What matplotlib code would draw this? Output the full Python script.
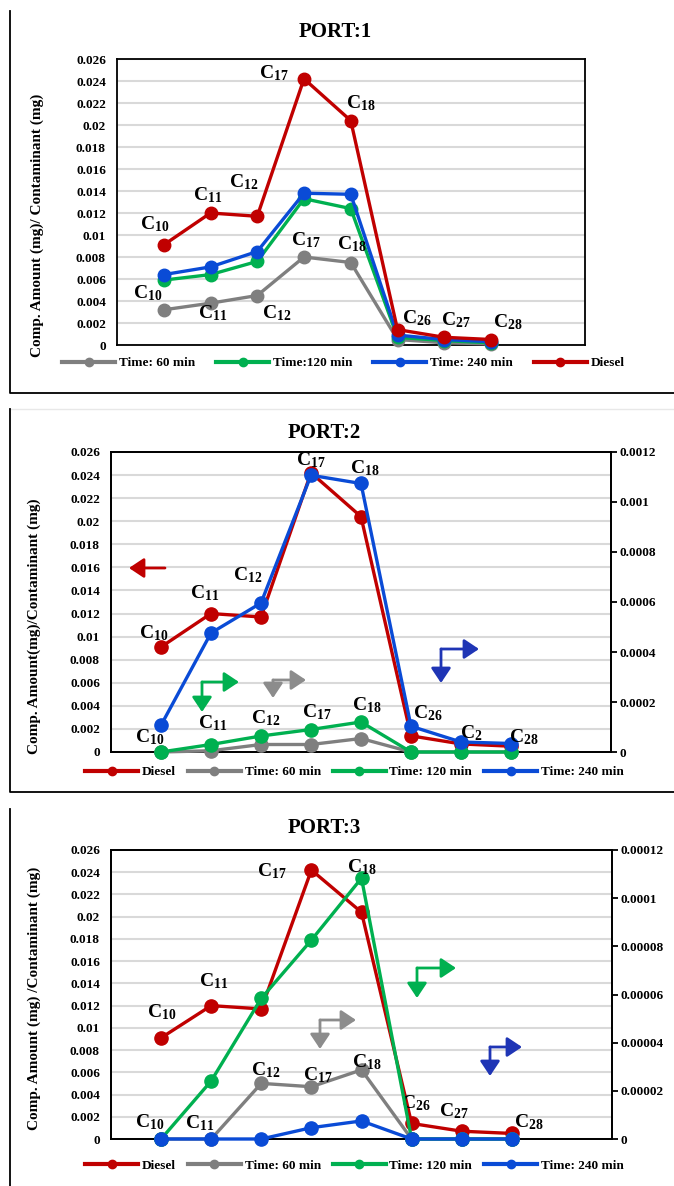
import matplotlib
matplotlib.use('Agg')
import matplotlib.pyplot as plt
import numpy as np
from matplotlib.lines import Line2D
from matplotlib.patches import FancyArrowPatch
from matplotlib.ticker import FuncFormatter

plt.rcParams['font.family'] = ['Liberation Serif', 'DejaVu Serif']
plt.rcParams['font.weight'] = 'bold'
plt.rcParams['mathtext.fontset'] = 'custom'
plt.rcParams['mathtext.rm'] = 'Liberation Serif:bold'
plt.rcParams['mathtext.it'] = 'Liberation Serif:bold'
plt.rcParams['mathtext.bf'] = 'Liberation Serif:bold'
plt.rcParams['mathtext.default'] = 'rm'

# data
carbons = ['10', '11', '12', '17', '18', '26', '27', '28']
x = np.arange(1, len(carbons) + 1)

diesel = [0.0091, 0.0120, 0.0117, 0.0242, 0.0204, 0.0014, 0.0007, 0.0005]

p1_t60 = [0.0032, 0.0038, 0.0045, 0.0080, 0.0075, 0.0005, 0.0002, 0.0001]
p1_t120 = [0.0059, 0.0064, 0.0076, 0.0133, 0.0124, 0.0007, 0.0004, 0.0002]
p1_t240 = [0.0064, 0.0071, 0.0085, 0.0138, 0.0137, 0.0009, 0.0005, 0.0003]

p2_t60 = [0, 0.000005, 0.00003, 0.00003, 0.000054, 0, 0, 0]
p2_t120 = [0, 0.00003, 0.000064, 0.00009, 0.00012, 0, 0, 0]
p2_t240 = [0.000107, 0.000476, 0.000596, 0.001107, 0.001074, 0.000103, 0.00004, 0.000034]

p3_t60 = [0, 0, 0.0000231, 0.0000217, 0.0000287, 0, 0, 0]
p3_t120 = [0, 0.0000241, 0.0000584, 0.0000826, 0.0001083, 0, 0, 0]
p3_t240 = [0, 0, 0, 0.0000047, 0.0000075, 0, 0, 0]

RED = '#C00000'
GRAY = '#7F7F7F'
GREEN = '#00B050'
BLUE = '#0A4BD6'

W, H = 674, 1186
fig = plt.figure(figsize=(W / 100, H / 100), dpi=100)


def rect(l, t, r, b):
    return [l / W, 1 - b / H, (r - l) / W, (b - t) / H]


def fp(px, py):
    return (px / W, 1 - py / H)


def fmt(v, pos):
    return np.format_float_positional(round(v, 8), trim='-')


def setup(ax):
    ax.set_xlim(0, 10)
    ax.set_ylim(0, 0.026)
    ax.set_yticks(np.linspace(0, 0.026, 14))
    ax.yaxis.set_major_formatter(FuncFormatter(fmt))
    ax.set_xticks([])
    ax.tick_params(axis='y', length=0, pad=8, labelsize=9.5)
    ax.grid(axis='y', color='#D9D9D9', lw=1.5)
    ax.set_axisbelow(True)
    for s in ax.spines.values():
        s.set_linewidth(1.3)


def twin(ax, top):
    ax2 = ax.twinx()
    ax2.set_ylim(0, top)
    ax2.set_yticks(np.linspace(0, top, 7))
    ax2.yaxis.set_major_formatter(FuncFormatter(fmt))
    ax2.tick_params(axis='y', direction='out', length=4, width=1.3, pad=2, labelsize=9.5)
    for s in ax2.spines.values():
        s.set_linewidth(1.3)
    return ax2


def line(ax, vals, color, ms=9.5):
    ax.plot(x, vals, color=color, lw=2.4, marker='o', ms=ms, clip_on=False, zorder=3)


def labels(ax, vals, items):
    for it in items:
        i, dx, dy = it[0], it[1], it[2]
        txt = it[3] if len(it) > 3 else 'C$_{%s}$' % carbons[i]
        ax.annotate(txt, xy=(x[i], vals[i]), xytext=(dx, dy), textcoords='offset pixels',
                    ha='center', va='center', fontsize=14, annotation_clip=False, zorder=5)


def legend(handles, names, cx, cy, spacing):
    fig.legend(handles, names, loc='center', bbox_to_anchor=fp(cx, cy), ncol=4, frameon=False,
               fontsize=9.5, handlelength=4, handletextpad=0.3, columnspacing=spacing,
               borderaxespad=0, borderpad=0)


def h(color):
    return Line2D([], [], color=color, lw=3, marker='o', ms=6)


def arrow(start, end, color):
    fig.add_artist(FancyArrowPatch(fp(*start), fp(*end), transform=fig.transFigure,
                                   arrowstyle='-|>,head_length=0.45,head_width=0.3',
                                   mutation_scale=20, lw=2.0, color=color,
                                   shrinkA=0, shrinkB=0))


def elbow(cx, cy, ydown, xright, color):
    arrow((cx, cy), (cx, ydown), color)
    arrow((cx, cy), (xright, cy), color)


def frame(xs, ys, color='black', lw=1.3):
    fig.add_artist(Line2D([v / W for v in xs], [1 - v / H for v in ys],
                          transform=fig.transFigure, color=color, lw=lw))


# ---------------- PORT 1 ----------------
ax1 = fig.add_axes(rect(117, 59, 584.5, 345))
setup(ax1)
line(ax1, p1_t60, GRAY, 9)
line(ax1, p1_t120, GREEN, 9)
line(ax1, p1_t240, BLUE, 9)
line(ax1, diesel, RED, 9)
labels(ax1, diesel, [(0, -9, 21), (1, -3, 18), (2, -14, 34), (3, -30, 6), (4, 10, 17),
                     (5, 19, 11), (6, 12, 17), (7, 17, 17)])
labels(ax1, p1_t60, [(0, -16, 17), (1, 2, -10), (2, 19, -18), (3, 2, 17), (4, 1, 18)])
fig.text(*fp(335, 32), 'PORT:1', ha='center', va='center', fontsize=15)
fig.text(*fp(37, 225), 'Comp. Amount (mg)/ Contaminant (mg)', rotation=90,
         ha='center', va='center', fontsize=11)
legend([h(GRAY), h(GREEN), h(BLUE), h(RED)],
       ['Time: 60 min', 'Time:120 min', 'Time: 240 min', 'Diesel'], 343.5, 363, 1.6)
frame([10, 10, 674], [11, 393, 393])

# ---------------- PORT 2 ----------------
ax2 = fig.add_axes(rect(111, 452, 611, 752))
setup(ax2)
line(ax2, diesel, RED)
ax2r = twin(ax2, 0.0012)
line(ax2r, p2_t60, GRAY)
line(ax2r, p2_t120, GREEN)
line(ax2r, p2_t240, BLUE)
labels(ax2, diesel, [(0, -7, 14), (1, -6, 20)])
labels(ax2r, p2_t240, [(2, -13, 28), (3, 0, 15), (4, 4, 15), (5, 17, 13),
                       (6, 10, 9, 'C$_{2}$'), (7, 13, 6)])
labels(ax2r, p2_t120, [(0, -11, 15), (1, 2, 21), (2, 5, 18), (3, 6, 17), (4, 6, 17)])
fig.text(*fp(324.5, 433), 'PORT:2', ha='center', va='center', fontsize=15)
fig.text(*fp(34, 626), 'Comp. Amount(mg)/Contaminant (mg)', rotation=90,
         ha='center', va='center', fontsize=11)
legend([h(RED), h(GRAY), h(GREEN), h(BLUE)],
       ['Diesel', 'Time: 60 min', 'Time: 120 min', 'Time: 240 min'], 354.5, 772, 0.9)
arrow((165, 568), (129, 568), RED)
elbow(202, 682, 712, 239, GREEN)
elbow(273, 680, 698, 306, '#8C8C8C')
elbow(441, 649, 683, 479, '#1F35B5')
frame([10, 674], [409, 409], '#E8E8E8', 1.0)
frame([10, 10, 674], [409, 792, 792])

# ---------------- PORT 3 ----------------
ax3 = fig.add_axes(rect(111, 850, 612, 1139))
setup(ax3)
line(ax3, diesel, RED)
ax3r = twin(ax3, 0.00012)
line(ax3r, p3_t60, GRAY)
line(ax3r, p3_t120, GREEN)
line(ax3r, p3_t240, BLUE)
labels(ax3, diesel, [(0, 1, 26), (1, 2, 24), (3, -40, -1), (5, 4, 20), (6, -8, 20), (7, 17, 11)])
labels(ax3r, p3_t120, [(4, 0, 11)])
labels(ax3r, p3_t240, [(0, -11, 17), (1, -12, 16)])
labels(ax3r, p3_t60, [(2, 4, 13), (3, 6, 12), (4, 5, 8)])
fig.text(*fp(324.5, 828), 'PORT:3', ha='center', va='center', fontsize=15)
fig.text(*fp(34, 998), 'Comp. Amount (mg) /Contaminant (mg)', rotation=90,
         ha='center', va='center', fontsize=11)
legend([h(RED), h(GRAY), h(GREEN), h(BLUE)],
       ['Diesel', 'Time: 60 min', 'Time: 120 min', 'Time: 240 min'], 354.5, 1166, 0.9)
elbow(417, 968, 998, 456, GREEN)
elbow(320, 1020, 1049, 356, '#8C8C8C')
elbow(490, 1047, 1076, 522, '#1F35B5')
frame([10, 10], [809, 1186])

fig.savefig('out.png', dpi=100)
plt.close(fig)
